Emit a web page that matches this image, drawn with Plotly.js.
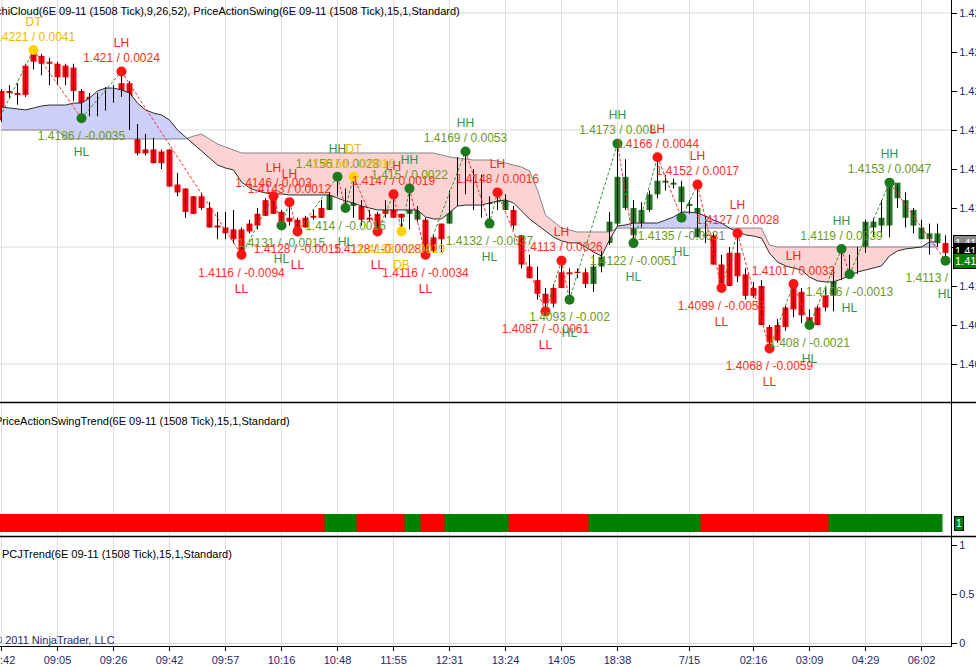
<!DOCTYPE html>
<html><head><meta charset="utf-8">
<script src="https://cdn.plot.ly/plotly-3.0.1.min.js"></script>
<style>html,body{margin:0;padding:0;overflow:hidden;background:#fff;width:976px;height:667px}#chart{width:1000px;height:667px}</style>
</head><body><div id="chart"></div>
<script>
// ---------- DATA ----------
const tickBars   = [0,7,14,21,28,35,42,49,56,63,70,77,86,94,101,108,115];
const tickLabels = ['08:42','09:05','09:26','09:42','09:57','10:16','10:48','11:55','12:31','13:24','14:05','18:38','7/15','02:16','03:09','04:29','06:02'];

const opens = [1.4200,1.4200,1.4199,1.4213,1.4219,1.4218,1.4215,1.4214,1.4213,1.4212,
1.4200,1.4197,1.4196,1.4201,1.4201,1.4204,1.4204,1.4181,1.4170,1.4170,
1.4169,1.4170,1.4152,1.4150,1.4146,1.4146,1.4140,1.4131,1.4130,1.4129,
1.4129,1.4132,1.4137,1.4144,1.4145,1.4138,1.4135,1.4134,1.4135,1.4136,
1.4140,1.4139,1.4148,1.4147,1.4141,1.4141,1.4135,1.4137,1.4142,1.4142,
1.4137,1.4137,1.4134,1.4134,1.4125,1.4132,1.4132,1.4143,1.4153,1.4147,
1.4143,1.4142,1.4143,1.4139,1.4139,1.4126,1.4110,1.4103,1.4096,1.4099,
1.4107,1.4107,1.4107,1.4107,1.4101,1.4110,1.4122,1.4132,1.4140,1.4126,
1.4131,1.4139,1.4147,1.4153,1.4152,1.4143,1.4141,1.4125,1.4126,1.4126,
1.4111,1.4117,1.4117,1.4106,1.4099,1.4100,1.4079,1.4080,1.4089,1.4101,
1.4097,1.4084,1.4089,1.4095,1.4095,1.4107,1.4107,1.4108,1.4118,1.4130,
1.4131,1.4131,1.4145,1.4135,1.4131,1.4124,1.4124,1.4122,1.4122];
const highs = [1.4201,1.4203,1.4204,1.4214,1.4221,1.4219,1.4217,1.4215,1.4214,1.4214,
1.4201,1.4199,1.4199,1.4202,1.4203,1.4210,1.4205,1.4183,1.4178,1.4176,
1.4170,1.4170,1.4158,1.4150,1.4146,1.4148,1.4143,1.4138,1.4138,1.4139,
1.4130,1.4134,1.4140,1.4145,1.4146,1.4139,1.4143,1.4135,1.4136,1.4139,
1.4144,1.4148,1.4156,1.4150,1.4156,1.4144,1.4139,1.4138,1.4144,1.4147,
1.4137,1.4150,1.4141,1.4135,1.4126,1.4132,1.4149,1.4166,1.4169,1.4160,
1.4157,1.4146,1.4148,1.4147,1.4141,1.4126,1.4116,1.4110,1.4099,1.4101,
1.4113,1.4109,1.4109,1.4109,1.4116,1.4118,1.4138,1.4173,1.4165,1.4144,
1.4143,1.4149,1.4166,1.4157,1.4155,1.4154,1.4144,1.4152,1.4136,1.4127,
1.4116,1.4120,1.4127,1.4109,1.4102,1.4103,1.4080,1.4083,1.4090,1.4101,
1.4099,1.4088,1.4090,1.4099,1.4110,1.4119,1.4116,1.4120,1.4134,1.4135,
1.4144,1.4153,1.4152,1.4148,1.4140,1.4134,1.4132,1.4132,1.4126];
const lows = [1.4184,1.4196,1.4193,1.4197,1.4211,1.4208,1.4203,1.4203,1.4203,1.4195,
1.4186,1.4187,1.4187,1.4190,1.4194,1.4197,1.4180,1.4167,1.4167,1.4163,
1.4160,1.4151,1.4146,1.4135,1.4137,1.4139,1.4130,1.4124,1.4124,1.4122,
1.4116,1.4127,1.4129,1.4136,1.4137,1.4131,1.4131,1.4128,1.4130,1.4134,
1.4135,1.4139,1.4146,1.4140,1.4135,1.4131,1.4133,1.4128,1.4135,1.4135,
1.4128,1.4129,1.4133,1.4116,1.4117,1.4117,1.4132,1.4141,1.4147,1.4139,
1.4135,1.4132,1.4139,1.4139,1.4129,1.4109,1.4104,1.4093,1.4087,1.4089,
1.4099,1.4093,1.4104,1.4099,1.4097,1.4107,1.4121,1.4131,1.4139,1.4122,
1.4130,1.4138,1.4145,1.4149,1.4150,1.4135,1.4137,1.4125,1.4122,1.4111,
1.4099,1.4100,1.4102,1.4093,1.4094,1.4080,1.4068,1.4071,1.4077,1.4084,
1.4081,1.4080,1.4080,1.4087,1.4087,1.4103,1.4106,1.4106,1.4117,1.4125,
1.4125,1.4125,1.4140,1.4130,1.4127,1.4124,1.4116,1.4120,1.4113];
const closes = [1.4185,1.4199,1.4198,1.4198,1.4215,1.4214,1.4214,1.4207,1.4207,1.4200,
1.4189,1.4189,1.4192,1.4191,1.4198,1.4198,1.4181,1.4168,1.4168,1.4163,
1.4163,1.4151,1.4148,1.4138,1.4137,1.4140,1.4130,1.4130,1.4127,1.4124,
1.4117,1.4128,1.4131,1.4136,1.4137,1.4133,1.4133,1.4129,1.4130,1.4135,
1.4135,1.4148,1.4149,1.4148,1.4147,1.4134,1.4134,1.4129,1.4137,1.4135,
1.4135,1.4141,1.4139,1.4116,1.4118,1.4124,1.4148,1.4163,1.4164,1.4155,
1.4155,1.4143,1.4145,1.4144,1.4131,1.4111,1.4104,1.4096,1.4091,1.4091,
1.4099,1.4106,1.4107,1.4101,1.4110,1.4115,1.4133,1.4156,1.4156,1.4140,
1.4139,1.4147,1.4154,1.4154,1.4153,1.4151,1.4142,1.4140,1.4126,1.4111,
1.4100,1.4100,1.4105,1.4095,1.4095,1.4080,1.4071,1.4072,1.4079,1.4088,
1.4085,1.4081,1.4080,1.4089,1.4107,1.4114,1.4113,1.4118,1.4133,1.4133,
1.4135,1.4153,1.4153,1.4144,1.4139,1.4130,1.4127,1.4127,1.4117];
const trend = [-1,-1,-1,-1,-1,-1,-1,-1,-1,-1,
-1,-1,-1,-1,-1,-1,-1,-1,-1,-1,
-1,-1,-1,-1,-1,-1,-1,-1,-1,-1,
-1,-1,-1,-1,-1,-1,-1,-1,-1,-1,
-1,1,1,1,1,-1,-1,-1,-1,-1,
-1,1,1,-1,-1,-1,1,1,1,1,
1,1,1,1,-1,-1,-1,-1,-1,-1,
-1,-1,-1,-1,1,1,1,1,1,1,
1,1,1,1,1,1,1,1,-1,-1,
-1,-1,-1,-1,-1,-1,-1,-1,-1,-1,
-1,-1,-1,-1,1,1,1,1,1,1,
1,1,1,1,1,1,1,1,null];

const spanA = [1.41918,1.41913,1.41908,1.41903,1.41913,1.41923,1.41928,1.41928,1.41928,1.41938,
1.41938,1.41964,1.42000,1.42015,1.42015,1.42005,1.41990,1.41938,1.41903,1.41887,
1.41877,1.41851,1.41800,1.41764,1.41728,1.41697,1.41656,1.41621,1.41605,1.41595,
1.41533,1.41503,1.41487,1.41477,1.41472,1.41472,1.41467,1.41467,1.41467,1.41467,
1.41467,1.41467,1.41451,1.41436,1.41426,1.41410,1.41400,1.41390,1.41390,1.41390,
1.41390,1.41390,1.41390,1.41354,1.41344,1.41344,1.41379,1.41410,1.41415,1.41415,
1.41415,1.41426,1.41436,1.41441,1.41426,1.41385,1.41344,1.41313,1.41282,1.41251,
1.41231,1.41221,1.41221,1.41200,1.41174,1.41154,1.41236,1.41308,1.41313,1.41323,
1.41323,1.41323,1.41323,1.41338,1.41354,1.41379,1.41379,1.41374,1.41359,1.41338,
1.41323,1.41297,1.41277,1.41262,1.41256,1.41246,1.41169,1.41123,1.41103,1.41092,
1.41082,1.41046,1.41026,1.41021,1.41021,1.41036,1.41056,1.41072,1.41082,1.41092,
1.41103,1.41154,1.41180,1.41190,1.41195,1.41200,1.41226,1.41226];
const spanB = [1.41800,1.41800,1.41800,1.41800,1.41800,1.41800,1.41800,1.41800,1.41754,1.41754,
1.41754,1.41754,1.41754,1.41754,1.41754,1.41754,1.41754,1.41754,1.41754,1.41754,
1.41754,1.41754,1.41754,1.41754,1.41769,1.41779,1.41754,1.41728,1.41713,1.41697,
1.41682,1.41682,1.41682,1.41682,1.41682,1.41682,1.41682,1.41682,1.41682,1.41682,
1.41682,1.41682,1.41682,1.41682,1.41682,1.41682,1.41682,1.41682,1.41682,1.41682,
1.41682,1.41682,1.41682,1.41682,1.41682,1.41672,1.41662,1.41656,1.41651,1.41646,
1.41646,1.41646,1.41641,1.41631,1.41621,1.41610,1.41590,1.41492,1.41364,1.41328,
1.41297,1.41287,1.41277,1.41277,1.41277,1.41277,1.41277,1.41297,1.41297,1.41297,
1.41297,1.41297,1.41297,1.41297,1.41297,1.41297,1.41297,1.41297,1.41297,1.41297,
1.41297,1.41297,1.41297,1.41297,1.41297,1.41297,1.41210,1.41200,1.41200,1.41200,
1.41200,1.41200,1.41200,1.41200,1.41200,1.41200,1.41200,1.41200,1.41200,1.41200,
1.41200,1.41200,1.41200,1.41200,1.41200,1.41200,1.41200,1.41200];

const swingBars   = [-1,4,10,15,30,34,35,36,37,42,43,44,47,49,50,51,53,58,61,62,68,70,71,77,79,82,85,87,90,92,96,99,101,105,106,111,118];
const swingPrices = [1.4180,1.4221,1.4186,1.4210,1.4116,1.4146,1.4131,1.4143,1.4128,1.4156,1.4140,1.4156,1.4128,1.4147,1.4128,1.4150,1.4116,1.4169,1.4132,1.4148,1.4087,1.4113,1.4093,1.4173,1.4122,1.4166,1.4135,1.4152,1.4099,1.4127,1.4068,1.4101,1.4080,1.4119,1.4106,1.4153,1.4113];
const swingTypes  = ['','DT','HL','LH','LL','LH','HL','LH','LL','HH','HL','DT','LL','LH','DB','HH','LL','HH','HL','LH','LL','LH','HL','HH','HL','LH','HL','LH','LL','LH','LL','LH','HL','HH','HL','HH','HL'];

const gridPrices  = [1.406,1.412,1.418,1.424];
const badgeValues = [1.4122,1.4118,1.4113];
const badgeColors = ['#8a8a8a','#000000','#0a7d0a'];

// ---------- STYLE ----------
const FONT = 'Arial, "Liberation Sans", sans-serif';
const AXIS_TXT = '#1f2a6b';
const RED_C = '#ff0000', GREEN_C = '#217a1c';
const BLUE_CLOUD = 'rgb(206,207,248)', PINK_CLOUD = 'rgb(252,210,210)';

const idx = opens.map((_, i) => i);
const traces = [];

// Ichimoku cloud polygons split at crossings
(function(){
  const n = spanA.length; const segs = []; let cur = null;
  for (let i = 0; i < n; i++) {
    const d = spanA[i] - spanB[i]; const s = d >= 0 ? 1 : -1;
    if (!cur) { cur = {s, pts: [[i, spanA[i], spanB[i]]]}; continue; }
    if (s === cur.s) { cur.pts.push([i, spanA[i], spanB[i]]); continue; }
    const d0 = spanA[i-1] - spanB[i-1]; const t = d0 / (d0 - d);
    const xc = i - 1 + t, yc = spanA[i-1] + t * (spanA[i] - spanA[i-1]);
    cur.pts.push([xc, yc, yc]); segs.push(cur);
    cur = {s, pts: [[xc, yc, yc], [i, spanA[i], spanB[i]]]};
  }
  segs.push(cur);
  segs.forEach(sg => {
    const rev = sg.pts.slice().reverse();
    traces.push({type:'scatter', mode:'lines', xaxis:'x', yaxis:'y',
      x: sg.pts.map(p => p[0]).concat(rev.map(p => p[0])),
      y: sg.pts.map(p => p[1]).concat(rev.map(p => p[2])),
      fill:'toself', fillcolor: sg.s > 0 ? BLUE_CLOUD : PINK_CLOUD,
      line:{width:0}, hoverinfo:'skip', showlegend:false});
  });
})();
traces.push({type:'scatter', mode:'lines', x: idx.slice(0, spanB.length), y: spanB, line:{color:'#858585', width:1}, hoverinfo:'skip', showlegend:false});
traces.push({type:'scatter', mode:'lines', x: idx.slice(0, spanA.length), y: spanA, line:{color:'#2b2b2b', width:1}, hoverinfo:'skip', showlegend:false});

// wicks
const wx = [], wy = [];
idx.forEach(i => { wx.push(i, i, null); wy.push(lows[i], highs[i], null); });
traces.push({type:'scatter', mode:'lines', x: wx, y: wy, line:{color:'#000', width:1}, hoverinfo:'skip', showlegend:false});

// bodies (coloured by trend)
const MINH = 0.00007;
const bodyH = idx.map(i => Math.max(Math.abs(opens[i] - closes[i]), MINH));
const bodyB = idx.map(i => Math.min(opens[i], closes[i]) - (bodyH[i] - Math.abs(opens[i] - closes[i])) / 2);
traces.push({type:'bar', x: idx, y: bodyH, base: bodyB, width: 0.75, xaxis:'x', yaxis:'y',
  marker:{color: trend.map(t => t === 1 ? GREEN_C : RED_C), line:{width:0}}, hoverinfo:'skip', showlegend:false});

// swing legs
const isHigh = t => t === 'LH' || t === 'HH' || t === 'DT';
const gx = [], gy = [], rx = [], ry = [];
for (let k = 1; k < swingBars.length; k++) {
  const up = swingPrices[k] > swingPrices[k-1];
  const X = up ? gx : rx, Y = up ? gy : ry;
  X.push(swingBars[k-1], swingBars[k], null); Y.push(swingPrices[k-1], swingPrices[k], null);
}
traces.push({type:'scatter', mode:'lines', x: rx, y: ry, line:{color:'#ff2a2a', width:1, dash:'3px,2px'}, hoverinfo:'skip', showlegend:false});
traces.push({type:'scatter', mode:'lines', x: gx, y: gy, line:{color:'#2e962e', width:1, dash:'3px,2px'}, hoverinfo:'skip', showlegend:false});

// swing dots & labels
const dotColor  = t => (t === 'LH' || t === 'LL') ? '#ff1414' : (t === 'HH' || t === 'HL') ? '#1b7a1b' : '#ffd200';
const typeColor = t => (t === 'LH' || t === 'LL') ? '#ff2222' : (t === 'HH' || t === 'HL') ? '#2e9150' : '#f2b800';
const valColor  = t => (t === 'LH' || t === 'LL') ? '#ff3020' : (t === 'HH' || t === 'HL') ? '#6a9a1c' : '#f2b800';
const sx = swingBars.slice(1), sp = swingPrices.slice(1), st = swingTypes.slice(1);
const valText = sp.map((p, k) => String(p) + ' / ' + String(Number((p - swingPrices[k]).toFixed(4))));
traces.push({type:'scatter', mode:'markers', x: sx, y: sp, marker:{size:10, color: st.map(dotColor), line:{width:0}}, hoverinfo:'skip', showlegend:false});
traces.push({type:'scatter', mode:'markers+text', x: sx, y: sp, text: valText,
  textposition: st.map(t => isHigh(t) ? 'top center' : 'bottom center'),
  textfont:{family: FONT, size:12, color: st.map(valColor)},
  marker:{size: st.map(t => isHigh(t) ? 8.3 : 18.9), opacity:0}, hoverinfo:'skip', showlegend:false});
traces.push({type:'scatter', mode:'markers+text', x: sx, y: sp, text: st,
  textposition: st.map(t => isHigh(t) ? 'top center' : 'bottom center'),
  textfont:{family: FONT, size:12, color: st.map(typeColor)},
  marker:{size: st.map(t => isHigh(t) ? 32.3 : 44.5), opacity:0}, hoverinfo:'skip', showlegend:false});

// trend panel
const tIdx = idx.filter(i => trend[i] !== null);
traces.push({type:'bar', x: tIdx, y: tIdx.map(() => 1), base: 0, width: 1.25, xaxis:'x', yaxis:'y2',
  marker:{color: tIdx.map(i => trend[i] === 1 ? '#008000' : '#ff0000'), line:{width:0}}, hoverinfo:'skip', showlegend:false});
// empty third panel
traces.push({type:'scatter', mode:'lines', x:[], y:[], xaxis:'x', yaxis:'y3', hoverinfo:'skip', showlegend:false});

// ---------- LAYOUT ----------
const H = 646; const py = p => (H - p) / H;
const annotations = [
  {xref:'paper', yref:'paper', x:0, xshift:-8.6, y:py(11), xanchor:'left', yanchor:'middle', showarrow:false,
   text:'IchiCloud(6E 09-11 (1508 Tick),9,26,52), PriceActionSwing(6E 09-11 (1508 Tick),15,1,Standard)', font:{family:FONT, size:11, color:'#000'}},
  {xref:'paper', yref:'paper', x:0, xshift:-7, y:py(421), xanchor:'left', yanchor:'middle', showarrow:false,
   text:'PriceActionSwingTrend(6E 09-11 (1508 Tick),15,1,Standard)', font:{family:FONT, size:11, color:'#000'}},
  {xref:'paper', yref:'paper', x:0, xshift:0, y:py(554), xanchor:'left', yanchor:'middle', showarrow:false,
   text:'PCJTrend(6E 09-11 (1508 Tick),15,1,Standard)', font:{family:FONT, size:11, color:'#000'}},
  {xref:'paper', yref:'paper', x:0, xshift:-8, y:py(640), xanchor:'left', yanchor:'middle', showarrow:false,
   text:'© 2011 NinjaTrader, LLC', font:{family:FONT, size:11, color:AXIS_TXT}},
  {xref:'paper', yref:'y2', x:1, xshift:3, y:0.5, xanchor:'left', yanchor:'middle', showarrow:false,
   text:'1', bgcolor:'#008000', bordercolor:'#000', borderwidth:1, borderpad:1, font:{family:FONT, size:10, color:'#fff'}}
];
badgeValues.forEach((v, k) => annotations.push({xref:'paper', yref:'y', x:1, xshift:2, y:v, xanchor:'left', yanchor:'middle', showarrow:false,
  text: v.toFixed(4), bgcolor: badgeColors[k], bordercolor:'#000', borderwidth:1, borderpad:1, font:{family:FONT, size:11, color:'#fff'}}));

const shapes = gridPrices.map(g => ({type:'line', xref:'paper', x0:0, x1:1, yref:'y', y0:g, y1:g, line:{color:'#d9d9d9', width:1}, layer:'below'}));
shapes.push({type:'line', xref:'paper', x0:0, x1:1.06, yref:'paper', y0:py(402.5), y1:py(402.5), line:{color:'#000', width:1.5}});
shapes.push({type:'line', xref:'paper', x0:0, x1:1.06, yref:'paper', y0:py(536.5), y1:py(536.5), line:{color:'#000', width:1.5}});

const layout = {
  width:1000, height:667, margin:{l:0, r:49, t:0, b:21},
  paper_bgcolor:'#fff', plot_bgcolor:'#fff', showlegend:false, barmode:'overlay',
  font:{family:FONT, size:11, color:'#000'},
  xaxis:{domain:[0,1], range:[-0.1875, 118.6875], anchor:'y3', showline:true, linecolor:'#000', linewidth:1,
    ticks:'outside', ticklen:4, tickcolor:'#000', tickvals: tickBars, ticktext: tickLabels, ticklabeloverflow:'allow',
    showgrid:true, gridcolor:'#e0e0e0', gridwidth:1, zeroline:false, tickfont:{size:11, color:AXIS_TXT}, fixedrange:true},
  yaxis:{domain:[py(402), 1], range:[1.4040513, 1.4246667], anchor:'x', side:'right', showline:true, linecolor:'#000', linewidth:1,
    ticks:'outside', ticklen:5, tickcolor:'#000', tick0:1.406, dtick:0.002, tickformat:'.4f', ticklabeloverflow:'allow',
    showgrid:false, zeroline:false, tickfont:{size:11, color:AXIS_TXT}, fixedrange:true},
  yaxis2:{domain:[py(536), py(403)], range:[-0.2222, 7.1667], anchor:'x', side:'right', showline:true, linecolor:'#000', linewidth:1,
    showticklabels:false, ticks:'', showgrid:false, zeroline:false, fixedrange:true},
  yaxis3:{domain:[0, py(537)], range:[-0.0306, 1.0816], anchor:'x', side:'right', showline:true, linecolor:'#000', linewidth:1,
    ticks:'outside', ticklen:5, tickcolor:'#000', tickvals:[0,0.5,1], ticktext:['0','0.5','1'], ticklabeloverflow:'allow',
    showgrid:false, zeroline:true, zerolinecolor:'#d9d9d9', zerolinewidth:1, tickfont:{size:11, color:AXIS_TXT}, fixedrange:true},
  annotations, shapes
};

Plotly.newPlot('chart', traces, layout, {staticPlot:true, displayModeBar:false});
</script>
</body></html>
